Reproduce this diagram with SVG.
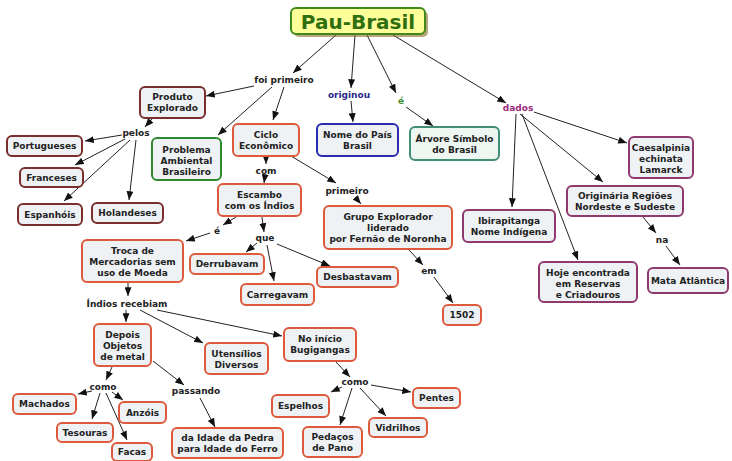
<svg xmlns="http://www.w3.org/2000/svg" width="732" height="461" viewBox="0 0 732 461">
<defs>
<marker id="ah" viewBox="0 0 10 8" refX="10" refY="4" markerWidth="9" markerHeight="7" markerUnits="userSpaceOnUse" orient="auto">
<path d="M0,0 L10,4 L0,8 z" fill="#111"/>
</marker>
<style>
.c rect{fill:#eef2f5;stroke-width:2}
.o rect{stroke:#dd5a3c}
.m rect{stroke:#7a2e2e}
.g rect{stroke:#2f8a2f}
.b rect{stroke:#2b2bb0}
.t rect{stroke:#3f8f72;fill:#eef6f2}
.p rect{stroke:#8e3a6e}
text{font-family:"DejaVu Sans","Verdana",sans-serif;font-weight:bold;font-size:9px;fill:#222;text-anchor:middle}
#links line{stroke:#222;stroke-width:1;marker-end:url(#ah)}
</style>
</defs>
<rect width="732" height="461" fill="#fff"/>
<g id="links">
<line x1="336" y1="35" x2="293" y2="73"/>
<line x1="254" y1="86" x2="206" y2="96"/>
<line x1="272" y1="87" x2="218" y2="135"/>
<line x1="284" y1="87" x2="273" y2="120"/>
<line x1="355" y1="35" x2="351" y2="88"/>
<line x1="351" y1="101" x2="353" y2="122"/>
<line x1="367" y1="35" x2="396" y2="93"/>
<line x1="406" y1="107" x2="433" y2="126"/>
<line x1="393" y1="35" x2="506" y2="103"/>
<line x1="534" y1="112" x2="627" y2="143"/>
<line x1="520" y1="114" x2="603" y2="182"/>
<line x1="516" y1="114" x2="512" y2="207"/>
<line x1="522" y1="114" x2="578" y2="260"/>
<line x1="643" y1="217" x2="656" y2="233"/>
<line x1="666" y1="246" x2="680" y2="265"/>
<line x1="152" y1="119" x2="145" y2="127"/>
<line x1="122" y1="135" x2="85" y2="141"/>
<line x1="125" y1="139" x2="75" y2="165"/>
<line x1="130" y1="140" x2="64" y2="201"/>
<line x1="136" y1="140" x2="129" y2="200"/>
<line x1="266" y1="156" x2="266" y2="164"/>
<line x1="265" y1="176" x2="264" y2="183"/>
<line x1="291" y1="156" x2="336" y2="183"/>
<line x1="355" y1="197" x2="361" y2="204"/>
<line x1="236" y1="217" x2="223" y2="225"/>
<line x1="210" y1="233" x2="186" y2="241"/>
<line x1="262" y1="217" x2="264" y2="232"/>
<line x1="257" y1="243" x2="246" y2="252"/>
<line x1="267" y1="245" x2="274" y2="281"/>
<line x1="277" y1="244" x2="330" y2="266"/>
<line x1="409" y1="250" x2="423" y2="265"/>
<line x1="434" y1="277" x2="453" y2="303"/>
<line x1="128" y1="283" x2="128" y2="296"/>
<line x1="126" y1="310" x2="126" y2="322"/>
<line x1="140" y1="310" x2="203" y2="343"/>
<line x1="157" y1="310" x2="282" y2="336"/>
<line x1="112" y1="367" x2="106" y2="380"/>
<line x1="153" y1="361" x2="184" y2="385"/>
<line x1="92" y1="391" x2="78" y2="394"/>
<line x1="112" y1="392" x2="123" y2="400"/>
<line x1="100" y1="393" x2="92" y2="419"/>
<line x1="106" y1="393" x2="127" y2="440"/>
<line x1="200" y1="398" x2="215" y2="427"/>
<line x1="336" y1="362" x2="350" y2="377"/>
<line x1="342" y1="387" x2="331" y2="392"/>
<line x1="352" y1="388" x2="340" y2="425"/>
<line x1="360" y1="388" x2="386" y2="416"/>
<line x1="371" y1="385" x2="411" y2="392"/>
</g>
<g id="labels">
<text x="284" y="83">foi primeiro</text>
<text x="349" y="98" style="fill:#2a2a8a">originou</text>
<text x="401" y="104" style="fill:#3a8a2a">é</text>
<text x="518" y="111" style="fill:#9a2a7a">dados</text>
<text x="136" y="136">pelos</text>
<text x="266" y="174">com</text>
<text x="347" y="194">primeiro</text>
<text x="217" y="234">é</text>
<text x="265" y="241">que</text>
<text x="429" y="274">em</text>
<text x="127" y="307">Índios recebiam</text>
<text x="103" y="390">como</text>
<text x="196" y="394">passando</text>
<text x="355" y="385">como</text>
<text x="662" y="243">na</text>
</g>
<g id="pau">
<rect x="294" y="11" width="134" height="26" rx="5" fill="#8a6a2a" opacity="0.6"/>
<rect x="291" y="8" width="134" height="26" rx="5" fill="#ffff99" stroke="#3f8a1a" stroke-width="2"/>
<text x="358" y="29" style="font-size:20px;fill:#2f6f10">Pau-Brasil</text>
</g>
<g id="produto" class="c m"><rect x="140" y="87" width="65" height="31" rx="5"/><text x="172.5" y="100">Produto</text><text x="172.5" y="111">Explorado</text></g>
<g id="portugueses" class="c m"><rect x="7" y="136" width="75" height="20" rx="5"/><text x="44.5" y="149">Portugueses</text></g>
<g id="franceses" class="c m"><rect x="20" y="168" width="63" height="19" rx="5"/><text x="51.5" y="181">Franceses</text></g>
<g id="espanhois" class="c m"><rect x="18" y="204" width="64" height="21" rx="5"/><text x="50" y="218">Espanhóis</text></g>
<g id="holandeses" class="c m"><rect x="92" y="203" width="71" height="20" rx="5"/><text x="127.5" y="216">Holandeses</text></g>
<g id="problema" class="c g"><rect x="152" y="138" width="69" height="42" rx="5"/><text x="186.5" y="152.5">Problema</text><text x="186.5" y="163.5">Ambiental</text><text x="186.5" y="174.5">Brasileiro</text></g>
<g id="ciclo" class="c o"><rect x="233" y="124" width="66" height="32" rx="5"/><text x="266" y="138">Ciclo</text><text x="266" y="149">Econômico</text></g>
<g id="nome" class="c b"><rect x="317" y="124" width="81" height="32" rx="5"/><text x="357.5" y="138">Nome do País</text><text x="357.5" y="149">Brasil</text></g>
<g id="arvore" class="c t"><rect x="410" y="127" width="89" height="33" rx="5"/><text x="454.5" y="141.5">Árvore Símbolo</text><text x="454.5" y="152.5">do Brasil</text></g>
<g id="caesalpinia" class="c p"><rect x="629" y="137" width="64" height="41" rx="5"/><text x="661" y="151">Caesalpinia</text><text x="661" y="162">echinata</text><text x="661" y="173">Lamarck</text></g>
<g id="originaria" class="c p"><rect x="567" y="186" width="116" height="30" rx="5"/><text x="625" y="199">Originária Regiões</text><text x="625" y="210">Nordeste e Sudeste</text></g>
<g id="ibirapitanga" class="c p"><rect x="463" y="210" width="92" height="32" rx="5"/><text x="509" y="224">Ibirapitanga</text><text x="509" y="235">Nome Indígena</text></g>
<g id="hoje" class="c p"><rect x="539" y="262" width="98" height="40" rx="5"/><text x="588" y="275.5">Hoje encontrada</text><text x="588" y="286.5">em Reservas</text><text x="588" y="297.5">e Criadouros</text></g>
<g id="mata" class="c p"><rect x="648" y="268" width="80" height="25" rx="5"/><text x="688" y="283.5">Mata Atlântica</text></g>
<g id="escambo" class="c o"><rect x="218" y="184" width="83" height="32" rx="5"/><text x="259.5" y="198">Escambo</text><text x="259.5" y="209">com os Índios</text></g>
<g id="troca" class="c o"><rect x="82" y="240" width="101" height="42" rx="5"/><text x="132.5" y="253.5">Troca de</text><text x="132.5" y="264.5">Mercadorias sem</text><text x="132.5" y="275.5">uso de Moeda</text></g>
<g id="derrubavam" class="c o"><rect x="190" y="254" width="74" height="20" rx="5"/><text x="227" y="267">Derrubavam</text></g>
<g id="carregavam" class="c o"><rect x="241" y="284" width="73" height="21" rx="5"/><text x="277.5" y="297.5">Carregavam</text></g>
<g id="desbastavam" class="c o"><rect x="317" y="267" width="81" height="20" rx="5"/><text x="357.5" y="280">Desbastavam</text></g>
<g id="grupo" class="c o"><rect x="324" y="206" width="128" height="43" rx="5"/><text x="388" y="219.5">Grupo Explorador</text><text x="388" y="230.5">liderado</text><text x="388" y="241.5">por Fernão de Noronha</text></g>
<g id="ano1502" class="c o"><rect x="443" y="305" width="38" height="20" rx="5"/><text x="462" y="318">1502</text></g>
<g id="depois" class="c o"><rect x="94" y="324" width="57" height="42" rx="5"/><text x="122.5" y="337.5">Depois</text><text x="122.5" y="348.5">Objetos</text><text x="122.5" y="359.5">de metal</text></g>
<g id="utensilios" class="c o"><rect x="205" y="343" width="63" height="31" rx="5"/><text x="236.5" y="356.5">Utensílios</text><text x="236.5" y="367.5">Diversos</text></g>
<g id="noinicio" class="c o"><rect x="284" y="328" width="72" height="33" rx="5"/><text x="320" y="342">No início</text><text x="320" y="353">Bugigangas</text></g>
<g id="machados" class="c o"><rect x="13" y="394" width="63" height="20" rx="5"/><text x="44.5" y="407">Machados</text></g>
<g id="anzois" class="c o"><rect x="119" y="402" width="47" height="21" rx="5"/><text x="142.5" y="415.5">Anzóis</text></g>
<g id="tesouras" class="c o"><rect x="57" y="423" width="56" height="19" rx="5"/><text x="85" y="435.5">Tesouras</text></g>
<g id="facas" class="c o"><rect x="112" y="443" width="40" height="18" rx="5"/><text x="132" y="455">Facas</text></g>
<g id="idade" class="c o"><rect x="172" y="428" width="111" height="30" rx="5"/><text x="227.5" y="441">da Idade da Pedra</text><text x="227.5" y="452">para Idade do Ferro</text></g>
<g id="espelhos" class="c o"><rect x="272" y="395" width="57" height="22" rx="5"/><text x="300.5" y="409">Espelhos</text></g>
<g id="pedacos" class="c o"><rect x="303" y="427" width="59" height="30" rx="5"/><text x="332.5" y="440">Pedaços</text><text x="332.5" y="451">de Pano</text></g>
<g id="vidrilhos" class="c o"><rect x="369" y="418" width="58" height="19" rx="5"/><text x="398" y="430.5">Vidrilhos</text></g>
<g id="pentes" class="c o"><rect x="413" y="388" width="47" height="20" rx="5"/><text x="436.5" y="401">Pentes</text></g>
</svg>
